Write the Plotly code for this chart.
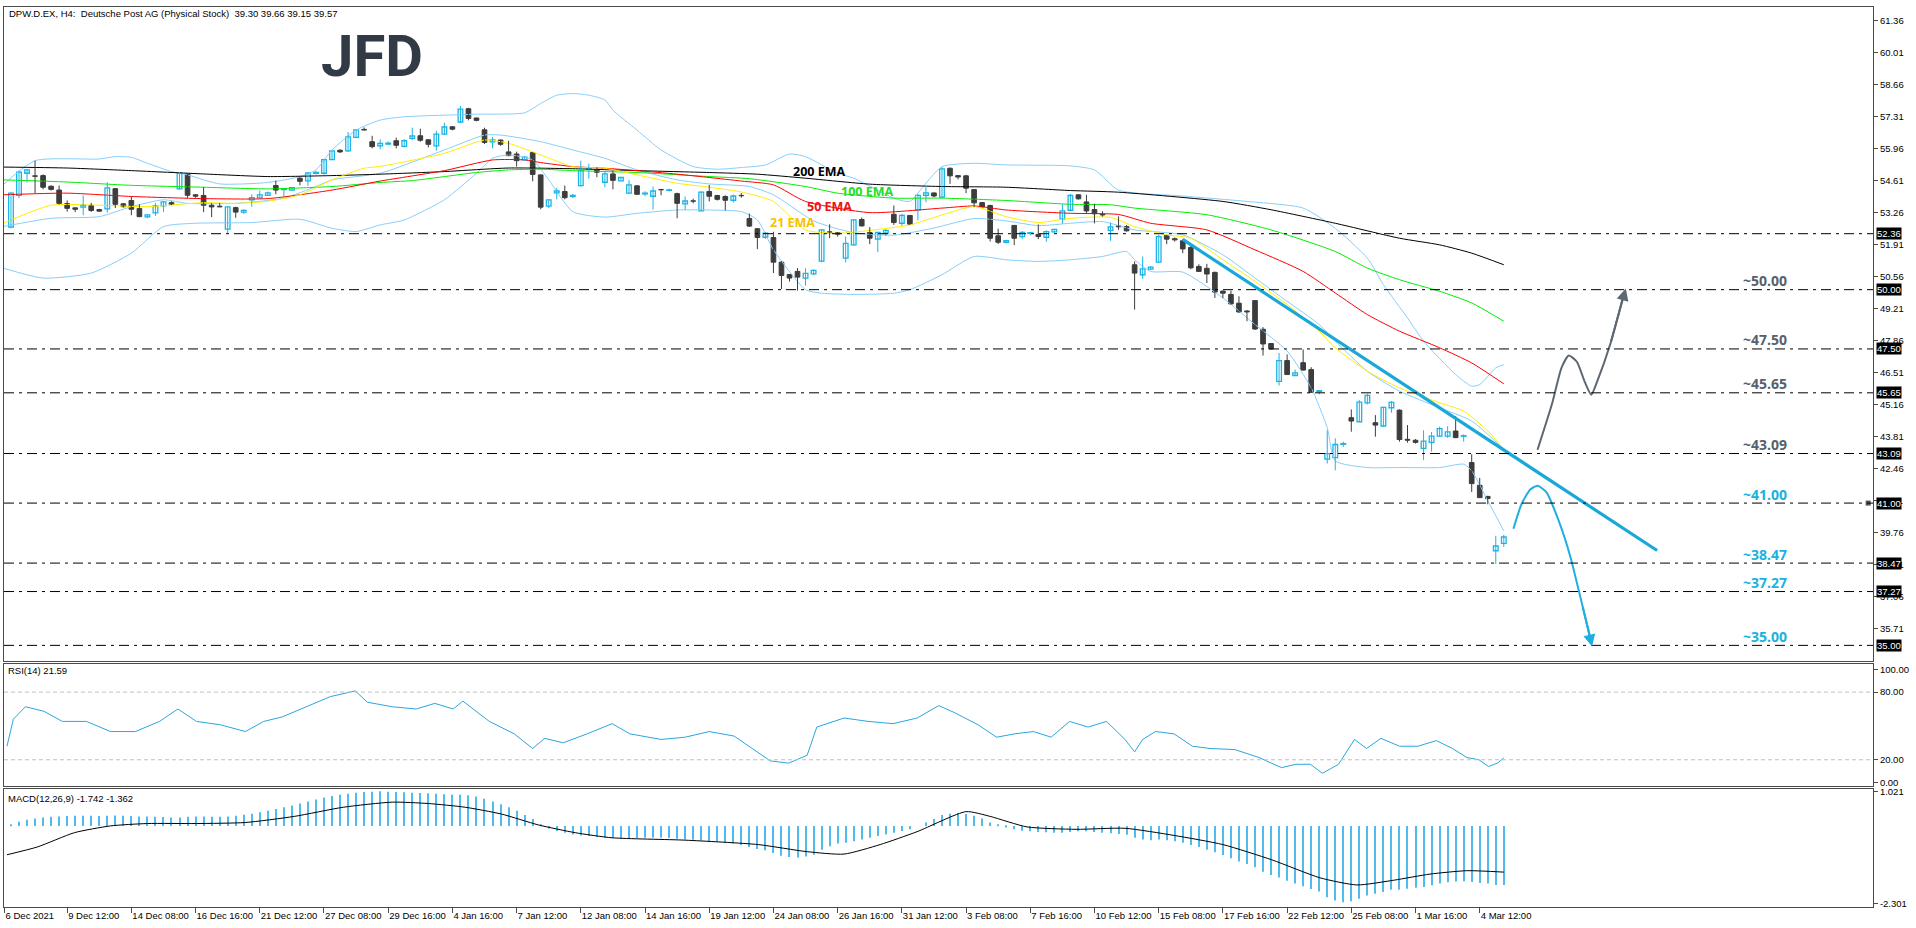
import plotly.graph_objects as go

# ------------------------------------------------------------------ DATA
open_ = [52.64,53.98,54.91,54.80,54.81,54.36,54.20,53.63,53.45,53.48,
         53.55,53.38,53.41,54.26,53.62,53.76,53.42,53.07,53.24,53.53,
         53.67,54.25,54.88,54.00,53.97,53.56,53.52,52.55,53.46,53.27,
         53.79,53.87,53.98,54.39,54.22,54.20,54.70,54.59,54.91,54.91,
         55.48,55.88,55.85,56.42,56.76,56.24,56.06,56.14,56.28,56.04,
         56.38,56.49,56.32,56.06,56.56,56.87,57.07,57.63,57.24,56.74,
         56.23,56.31,55.81,55.72,55.47,55.78,54.84,53.52,54.08,54.14,
         53.93,54.39,55.08,55.05,54.53,54.88,54.59,54.07,54.38,54.04,
         53.94,54.22,54.19,54.05,53.62,53.74,53.32,54.14,53.97,53.93,
         53.77,53.97,53.00,52.57,52.21,52.20,51.16,50.64,50.77,50.49,
         50.67,51.20,52.44,52.41,51.33,51.89,52.96,52.41,52.13,52.38,
         53.18,52.80,53.13,53.37,53.98,54.08,53.90,55.12,54.81,54.80,
         54.22,53.67,53.55,52.27,52.00,52.71,52.24,52.37,52.33,52.21,
         52.44,52.97,53.35,54.00,53.70,53.38,53.18,52.50,52.69,52.66,
         51.05,50.63,50.87,51.16,52.29,52.15,52.06,51.78,50.98,50.90,
         50.73,49.94,49.80,49.43,49.10,49.54,48.33,47.73,46.13,47.01,
         46.38,46.92,46.63,45.71,42.85,42.92,43.48,44.60,44.43,45.23,
         44.39,44.25,45.02,44.92,43.69,43.65,43.31,43.56,43.82,43.82,
         44.04,43.82,42.71,41.75,41.28,38.99,39.30]
high = [54.11,55.02,55.08,55.44,54.86,54.40,54.39,53.76,53.46,53.97,
        53.66,53.41,54.53,54.28,53.65,53.93,53.60,53.17,53.65,53.73,
        53.73,54.96,54.91,54.02,54.32,53.65,53.65,53.50,53.50,53.39,
        54.02,54.18,54.14,54.60,54.26,54.32,54.77,54.94,55.00,55.52,
        55.86,55.92,56.65,56.77,56.84,56.49,56.34,56.25,56.41,56.35,
        56.83,56.79,56.34,56.70,57.04,56.90,57.75,57.67,57.25,56.83,
        56.44,56.32,56.28,55.82,55.62,55.79,54.85,53.81,54.30,54.39,
        54.04,55.44,55.31,55.16,54.96,55.02,54.73,54.63,54.39,54.15,
        54.35,54.25,54.26,54.09,53.93,53.84,54.15,54.42,54.00,53.98,
        54.01,54.07,53.21,52.58,52.44,52.44,51.20,50.66,50.91,50.90,
        50.85,52.54,52.76,52.43,52.24,52.97,53.04,52.64,52.43,52.54,
        53.55,53.20,53.15,54.04,54.39,54.09,55.16,55.15,54.82,54.84,
        54.23,53.70,53.58,52.57,52.10,52.72,52.47,52.41,52.75,52.50,
        52.56,53.60,54.04,54.01,54.00,53.62,53.31,52.83,53.09,52.73,
        51.19,51.40,50.99,52.31,52.31,52.20,52.13,51.89,51.07,51.09,
        50.76,49.96,49.96,49.72,49.14,49.55,48.42,47.74,47.33,47.27,
        46.63,47.48,46.73,45.77,44.07,43.73,43.59,44.95,45.34,45.61,
        44.71,45.06,45.30,44.95,44.29,43.70,44.07,44.00,44.22,44.24,
        44.67,43.90,43.06,42.06,41.31,39.62,39.66]
low = [52.59,53.86,54.52,54.07,54.23,54.18,53.59,53.29,53.27,53.14,
       53.28,53.29,53.25,53.44,53.46,53.14,53.06,53.01,53.11,53.27,
       53.56,54.23,53.87,53.88,53.27,53.06,53.48,52.38,53.03,53.20,
       53.50,53.84,53.97,54.02,53.90,54.19,54.40,54.38,54.86,54.86,
       55.47,55.76,55.81,56.39,56.72,55.96,55.92,56.11,55.96,56.00,
       56.30,56.24,56.00,55.87,56.52,56.72,57.05,57.14,57.10,56.14,
       55.96,56.07,55.64,55.19,55.43,54.57,53.39,53.44,53.81,53.81,
       53.86,54.35,54.68,54.74,54.32,54.23,54.59,54.04,54.02,53.94,
       53.38,53.98,54.14,53.01,53.37,53.64,53.31,53.72,53.76,53.34,
       53.67,53.88,52.64,51.71,52.14,50.70,50.03,50.34,49.96,50.17,
       50.62,51.16,52.17,52.24,51.15,51.86,52.66,51.92,51.58,52.27,
       52.73,52.69,52.73,52.92,53.69,53.90,53.88,54.46,54.65,54.07,
       53.48,53.48,52.03,51.92,51.95,51.88,52.14,52.29,52.13,52.02,
       52.40,52.78,53.31,53.80,53.23,52.80,53.08,52.06,52.52,52.45,
       49.16,50.46,50.84,51.15,51.92,52.03,51.54,50.86,50.77,50.28,
       49.65,49.65,49.37,49.02,48.67,48.30,47.22,47.48,45.96,46.41,
       46.38,46.59,45.65,45.58,42.67,42.38,43.37,44.01,44.42,45.16,
       43.80,44.24,44.81,43.59,43.55,43.51,42.81,43.17,43.80,43.75,
       43.75,43.59,41.47,41.22,40.95,38.43,39.15]
close = [54.07,54.96,55.05,54.78,54.32,54.23,53.64,53.43,53.39,53.56,
         53.34,53.31,54.29,53.60,53.50,53.39,53.08,53.15,53.53,53.70,
         53.60,54.92,53.98,53.94,53.56,53.49,53.49,53.49,53.27,53.34,
         53.88,54.00,54.08,54.20,54.25,54.30,54.57,54.92,54.95,55.48,
         55.85,55.81,56.44,56.74,56.73,56.03,56.17,56.18,56.09,56.28,
         56.48,56.30,56.13,56.56,56.86,56.77,57.61,57.22,57.14,56.21,
         56.32,56.13,55.65,55.44,55.59,54.86,53.48,53.79,54.16,53.88,
         53.97,55.02,55.13,54.95,54.88,54.61,54.73,54.42,54.02,54.07,
         54.16,54.21,54.20,53.64,53.74,53.73,54.11,53.94,53.81,53.77,
         53.95,53.96,52.68,52.20,52.38,51.16,50.60,50.49,50.53,50.69,
         50.81,52.52,52.40,52.34,51.95,52.94,52.69,52.17,52.41,52.50,
         52.83,53.13,52.76,53.98,54.08,53.95,55.09,54.80,54.75,54.28,
         53.66,53.49,52.17,52.00,52.07,52.17,52.41,52.40,52.24,52.45,
         52.54,53.32,53.97,53.83,53.32,53.20,53.15,52.65,52.65,52.48,
         50.70,50.88,50.95,52.24,52.13,52.10,51.72,50.92,50.77,50.66,
         49.90,49.85,49.40,49.06,49.06,48.34,47.71,47.50,47.01,46.42,
         46.49,46.61,45.67,45.74,43.09,43.47,43.51,44.46,45.26,45.54,
         44.29,45.04,45.25,43.68,43.65,43.56,43.61,43.82,44.14,44.00,
         43.76,43.84,41.82,41.23,41.19,39.19,39.57]
bars = list(range(len(close)))

x_tick_bars = [-0.8, 7, 15, 23, 31, 39, 47, 55, 63, 71, 79, 87, 95, 103, 111,
               119, 127, 135, 143, 151, 159, 167, 175, 183]
x_tick_text = ["6 Dec 2021", "9 Dec 12:00", "14 Dec 08:00", "16 Dec 16:00",
               "21 Dec 12:00", "27 Dec 08:00", "29 Dec 16:00", "4 Jan 16:00",
               "7 Jan 12:00", "12 Jan 08:00", "14 Jan 16:00", "19 Jan 12:00",
               "24 Jan 08:00", "26 Jan 16:00", "31 Jan 12:00", "3 Feb 08:00",
               "7 Feb 16:00", "10 Feb 12:00", "15 Feb 08:00", "17 Feb 16:00",
               "22 Feb 12:00", "25 Feb 08:00", "1 Mar 16:00", "4 Mar 12:00"]

price_ticks = [61.36, 60.01, 58.66, 57.31, 55.96, 54.61, 53.26, 51.91, 50.56,
               49.21, 47.86, 46.51, 45.16, 43.81, 42.46, 41.11, 39.76, 38.41,
               37.06, 35.71]

# moving averages (read at sample bars)
ema200_x = [-1, 7, 15, 24, 32, 40, 46, 54, 62, 70, 78, 87, 93, 99, 107, 116,
            124, 132, 138, 151, 157, 165, 173, 178, 182, 186]
ema200_y = [55.17, 55.13, 55.02, 54.88, 54.77, 54.81, 54.87, 54.98, 55.13,
            55.10, 55.02, 54.94, 54.87, 54.70, 54.45, 54.35, 54.32, 54.18,
            54.11, 53.72, 53.37, 52.80, 52.17, 51.89, 51.54, 51.05]
ema100_x = [-1, 7, 15, 24, 32, 40, 46, 50, 58, 62, 66, 70, 78, 87, 92, 99,
            103, 110, 116, 124, 132, 137, 140, 149, 157, 165, 169, 173, 178,
            182, 186]
ema100_y = [54.63, 54.54, 54.40, 54.32, 54.25, 54.35, 54.52, 54.60, 54.94,
            55.05, 55.08, 55.02, 54.94, 54.77, 54.68, 54.35, 54.07, 53.86,
            53.86, 53.76, 53.60, 53.58, 53.44, 53.16, 52.52, 51.61, 50.91,
            50.42, 49.93, 49.44, 48.67]
ema50_x = [-1, 7, 15, 24, 32, 40, 46, 54, 60, 64, 66, 70, 74, 78, 83, 87,
           91, 95, 99, 107, 116, 120, 124, 132, 138, 142, 149, 155, 161, 165,
           169, 173, 178, 182, 186]
ema50_y = [54.00, 54.07, 53.93, 53.84, 53.84, 54.20, 54.58, 55.02, 55.47,
           55.47, 55.36, 55.19, 55.12, 55.02, 54.87, 54.73, 54.58, 54.42,
           53.72, 53.25, 53.44, 53.53, 53.36, 53.22, 53.17, 52.80, 52.52,
           51.68, 50.77, 49.86, 48.95, 48.25, 47.55, 46.91, 46.03]
ema21_x = [-1, 5, 11, 17, 24, 28, 32, 36, 40, 44, 46, 54, 59, 62, 66, 70,
           74, 78, 83, 87, 91, 95, 99, 103, 107, 112, 116, 120, 124, 128,
           132, 137, 140, 144, 147, 151, 155, 159, 163, 165, 169, 173, 178,
           181, 184, 186]
ema21_y = [52.80, 53.56, 53.56, 53.50, 53.67, 53.64, 53.73, 54.00, 54.63,
           55.12, 55.20, 55.75, 56.31, 56.17, 55.68, 55.19, 55.12, 54.84,
           54.49, 54.32, 54.12, 53.72, 52.52, 52.38, 52.50, 52.73, 53.15,
           53.50, 53.08, 52.83, 53.01, 53.05, 52.66, 52.31, 52.17, 51.26,
           50.35, 49.37, 48.25, 47.55, 46.56, 45.86, 45.23, 44.88, 44.04,
           43.27]

# Bollinger bands (read at sample bars)
bb_up_x = [-1, 3, 11, 13, 15, 17, 20, 22, 26, 32, 36, 38, 40, 43, 46, 49,
           58, 64, 66, 68, 70, 72, 74, 75, 78, 81, 85, 88, 91, 94, 97, 99,
           103, 105, 110, 112, 114, 116, 120, 124, 132, 135, 138, 146, 154,
           161, 165, 169, 171, 174, 176, 180, 182, 183, 185, 186]
bb_up_y = [54.42, 55.44, 55.51, 55.61, 55.58, 55.33, 54.98, 54.84, 54.46,
           54.52, 54.77, 55.05, 55.89, 56.73, 57.15, 57.29, 57.40, 57.46,
           57.85, 58.20, 58.27, 58.20, 58.00, 57.57, 56.73, 55.89, 55.19,
           55.08, 55.15, 55.26, 55.72, 55.61, 54.91, 54.70, 53.86, 53.72,
           54.49, 55.19, 55.33, 55.26, 55.22, 55.05, 54.20, 53.95, 53.72,
           53.44, 52.59, 51.33, 50.21, 48.81, 47.83, 46.42, 45.93, 46.00,
           46.70, 46.84]
bb_mid_x = [-1, 5, 11, 15, 19, 22, 28, 34, 38, 40, 46, 54, 59, 61, 66, 70,
            74, 78, 83, 87, 92, 95, 100, 105, 110, 115, 120, 124, 128, 132,
            136, 140, 146, 151, 155, 159, 163, 165, 169, 173, 178, 182, 186]
bb_mid_y = [52.66, 53.01, 53.08, 53.50, 53.79, 53.64, 53.64, 53.86, 54.35,
            54.63, 54.91, 55.89, 56.52, 56.52, 56.24, 55.89, 55.54, 55.05,
            54.63, 54.46, 54.35, 54.00, 52.90, 52.40, 52.30, 52.60, 53.00,
            52.90, 52.70, 52.80, 52.87, 52.52, 52.31, 51.47, 50.49, 49.51,
            48.53, 47.83, 46.56, 45.72, 45.02, 44.46, 43.27]
bb_low_x = [-1, 4, 10, 15, 19, 23, 30, 36, 40, 43, 46, 49, 54, 58, 60, 62,
            65, 67, 70, 74, 78, 83, 87, 91, 93, 95, 99, 101, 105, 110, 112,
            116, 120, 124, 128, 132, 136, 139, 140, 142, 146, 151, 155, 159,
            162, 164, 165, 169, 173, 178, 181, 182, 184, 186]
bb_low_y = [50.91, 50.49, 50.70, 51.54, 52.66, 52.80, 52.83, 52.97, 52.59,
            52.45, 52.73, 52.94, 53.79, 54.91, 55.54, 55.68, 55.47, 54.63,
            53.29, 53.06, 53.22, 53.36, 53.36, 53.29, 52.94, 51.68, 50.00,
            49.85, 49.80, 49.85, 50.00, 50.63, 51.40, 51.26, 51.19, 51.26,
            51.40, 51.61, 51.26, 50.77, 50.74, 49.65, 48.53, 47.41, 45.86,
            44.18, 42.78, 42.50, 42.50, 42.50, 42.64, 42.36, 41.10, 39.83]

# RSI(14) (read at sample bars)
rsi_x = [-0.5, 0.3, 1.8, 4.1, 6.4, 9.4, 12.4, 15.5, 18.5, 20.8, 23.1, 26.1,
         29.2, 31.5, 33.8, 36.8, 39.8, 42.9, 44.4, 47.5, 50.5, 52.8, 55.1,
         56.3, 58.1, 59.6, 62.7, 65, 66.5, 68.8, 71.8, 74.9, 77.1, 81, 84,
         87, 90.1, 92.4, 94.6, 96.9, 99.2, 100.4, 103.8, 106.8, 109.9,
         112.9, 115.6, 117.5, 120.5, 122.8, 125.1, 127.4, 129.6, 131.9,
         134.2, 136.5, 138.8, 140, 141, 142.6, 144.9, 147.2, 149.4, 152.5,
         155.5, 158.3, 160.1, 161.9, 163.4, 165.4, 167.4, 168.9, 170.7, 173,
         175.3, 177.6, 179.6, 181.4, 182.9, 184.1, 185.2, 186]
rsi_y = [32, 56, 67, 63, 54, 54, 45, 45, 54, 65, 54, 51, 45, 54, 58, 67, 76,
         81, 71, 67, 65, 70, 65, 72, 62, 54, 43, 30, 39, 35, 43, 52, 43, 38,
         40, 45, 41, 30, 19, 17, 24, 49, 57, 54, 52, 57, 68, 62, 51, 40, 43,
         45, 40, 54, 49, 54, 38, 27, 38, 45, 43, 32, 30, 29, 22, 13, 16, 16,
         8, 16, 38, 30, 39, 32, 32, 37, 30, 22, 20, 14, 17, 21.59]

# MACD(12,26,9) histogram per bar and signal line at sample bars
macd_hist = [0.05,0.12,0.18,0.22,0.25,0.27,0.28,0.29,0.30,0.30,
             0.30,0.29,0.30,0.31,0.30,0.29,0.28,0.28,0.27,0.26,
             0.25,0.25,0.27,0.28,0.28,0.27,0.27,0.28,0.30,0.33,
             0.36,0.40,0.45,0.50,0.55,0.60,0.66,0.72,0.78,0.84,
             0.88,0.92,0.95,0.98,1.00,1.01,1.02,1.01,1.00,0.99,
             0.98,0.97,0.96,0.95,0.93,0.92,0.92,0.90,0.87,0.80,
             0.72,0.64,0.55,0.45,0.32,0.20,0.05,-0.08,-0.15,-0.20,
             -0.25,-0.28,-0.30,-0.33,-0.35,-0.36,-0.36,-0.36,-0.36,-0.35,
             -0.35,-0.35,-0.36,-0.38,-0.40,-0.41,-0.43,-0.45,-0.47,-0.50,
             -0.52,-0.56,-0.62,-0.68,-0.72,-0.80,-0.88,-0.92,-0.93,-0.90,
             -0.85,-0.70,-0.60,-0.52,-0.50,-0.45,-0.40,-0.35,-0.30,-0.25,
             -0.20,-0.15,-0.10,0.00,0.10,0.20,0.32,0.36,0.38,0.35,
             0.30,0.22,0.10,0.02,-0.05,-0.10,-0.14,-0.16,-0.18,-0.19,
             -0.20,-0.20,-0.18,-0.16,-0.16,-0.18,-0.20,-0.22,-0.24,-0.26,
             -0.35,-0.40,-0.42,-0.40,-0.42,-0.45,-0.50,-0.56,-0.62,-0.70,
             -0.78,-0.86,-0.95,-1.05,-1.12,-1.22,-1.35,-1.45,-1.52,-1.62,
             -1.70,-1.78,-1.86,-1.93,-2.10,-2.20,-2.25,-2.22,-2.15,-2.05,
             -2.00,-1.95,-1.88,-1.88,-1.85,-1.82,-1.80,-1.75,-1.70,-1.66,
             -1.64,-1.63,-1.65,-1.68,-1.70,-1.74,-1.742]
signal_x = [-0.5, 3.3, 7.9, 12.4, 17, 23.1, 29.2, 35.3, 41.4, 47.5, 52, 56.6,
            61.1, 65.7, 70.3, 74.9, 84, 93.1, 99.2, 103.8, 108.3, 112.9, 119,
            122, 126.6, 132.7, 138.8, 144.9, 151, 157.1, 163.1, 167.7, 172.3,
            176.8, 181.4, 186]
signal_y = [-0.85, -0.62, -0.20, 0.00, 0.07, 0.07, 0.10, 0.28, 0.55, 0.70,
            0.66, 0.55, 0.35, 0.03, -0.20, -0.35, -0.42, -0.55, -0.76, -0.83,
            -0.55, -0.17, 0.42, 0.28, -0.03, -0.10, -0.07, -0.28, -0.55,
            -1.00, -1.53, -1.74, -1.60, -1.42, -1.32, -1.362]

# horizontal levels and drawn objects
levels_grey = [50.00, 47.50, 45.65, 43.09]
levels_cyan = [41.00, 38.47, 37.27, 35.00]
level_lines = [52.36, 50.00, 47.50, 45.65, 43.09, 41.00, 38.47, 37.27, 35.00]
trend_x = [146.0, 205.1]
trend_y = [52.12, 39.00]
up_path_x = [190.2, 192.0, 193.2, 194.1, 195.1, 196.1, 196.9, 197.6, 199.3, 200.9]
up_path_y = [43.25, 45.18, 46.71, 47.22, 46.96, 46.10, 45.57, 46.10, 47.74, 49.75]
dn_path_x = [187.2, 188.2, 189.3, 190.2, 191.3, 192.8, 194.3, 195.8, 196.8]
dn_path_y = [39.92, 40.95, 41.57, 41.73, 41.46, 40.29, 38.73, 36.67, 35.30]

# ------------------------------------------------------------------ STYLE
PL, PR, PT, PB = 3, 1873, 5, 907
def px_x(px):
    return (px - PL) / (PR - PL)
def px_y(py):
    return (PB - py) / (PB - PT)

CYAN = "#1ab4e6"
DARK = "#3d3d3d"
FRAME = "#4a4a4a"
BLUE_LIGHT = "#87cefa"
FONT = "Liberation Sans"

fig = go.Figure()

def line(x, y, color, width=1, xa="x", ya="y", shape="spline"):
    fig.add_trace(go.Scatter(x=x, y=y, mode="lines", xaxis=xa, yaxis=ya,
                             line=dict(color=color, width=width, shape=shape,
                                       smoothing=0.6 if shape == "spline" else None),
                             hoverinfo="skip"))

# indicators (behind candles)
line(bb_up_x, bb_up_y, BLUE_LIGHT)
line(bb_mid_x, bb_mid_y, BLUE_LIGHT)
line(bb_low_x, bb_low_y, BLUE_LIGHT)
line(ema200_x, ema200_y, "#000000")
line(ema100_x, ema100_y, "#00ee00")
line(ema50_x, ema50_y, "#ff0000")
line(ema21_x, ema21_y, "#ffee00")

# candles: wicks
for bull in (True, False):
    wx, wy = [], []
    for i in bars:
        if (close[i] >= open_[i]) == bull:
            wx += [i, i, None]
            wy += [low[i], high[i], None]
    fig.add_trace(go.Scatter(x=wx, y=wy, mode="lines", hoverinfo="skip",
                             line=dict(color=CYAN if bull else DARK, width=1)))
# candles: bodies
for bull in (True, False):
    bx, bb, bh = [], [], []
    for i in bars:
        if (close[i] >= open_[i]) == bull:
            bx.append(i)
            bb.append(min(open_[i], close[i]))
            bh.append(max(abs(close[i] - open_[i]), 0.015))
    fig.add_trace(go.Bar(x=bx, y=bh, base=bb, width=0.58, hoverinfo="skip",
                         marker=dict(color="#ffffff" if bull else DARK,
                                     line=dict(color=CYAN if bull else DARK,
                                               width=1.3 if bull else 1))))

# trend line + scenario arrows
line(trend_x, trend_y, "#1aa8d8", width=3.2, shape="linear")
line(up_path_x, up_path_y, "#5e6873", width=2)
line(dn_path_x, dn_path_y, "#1eaee0", width=2)

# axis price marker square for 41.00
fig.add_trace(go.Scatter(x=[231.4], y=[41.00], mode="markers", cliponaxis=False,
                         marker=dict(symbol="square", size=5, color="#555555"),
                         hoverinfo="skip"))

# RSI
fig.add_trace(go.Scatter(x=rsi_x, y=rsi_y, mode="lines", xaxis="x2", yaxis="y2",
                         line=dict(color="#2aa6dc", width=1), hoverinfo="skip"))
# MACD
fig.add_trace(go.Bar(x=bars, y=macd_hist, xaxis="x3", yaxis="y3", width=0.13,
                     marker=dict(color="#4fbdec", line=dict(width=0)),
                     hoverinfo="skip"))
fig.add_trace(go.Scatter(x=signal_x, y=signal_y, mode="lines", xaxis="x3",
                         yaxis="y3", line=dict(color="#000000", width=1,
                                               shape="spline", smoothing=0.6),
                         hoverinfo="skip"))

# ------------------------------------------------------------------ SHAPES
shapes = []
for lv in level_lines:
    shapes.append(dict(type="line", xref="paper", x0=0, x1=1, yref="y", y0=lv,
                       y1=lv, line=dict(color="#000000", width=1,
                                        dash="10px,5px,3px,5px")))
for lv in (80, 20):
    shapes.append(dict(type="line", xref="paper", x0=0, x1=1, yref="y2", y0=lv,
                       y1=lv, line=dict(color="#c0c0c0", width=1, dash="4px,3px")))

# ------------------------------------------------------------------ ANNOTATIONS
ann = []
nb = "\u00a0"
ann.append(dict(xref="paper", yref="paper", x=px_x(6), y=px_y(12),
                xanchor="left", yanchor="middle", showarrow=False,
                text=f"DPW.D.EX, H4:{nb}{nb}Deutsche Post AG (Physical Stock){nb}{nb}39.30 39.66 39.15 39.57",
                font=dict(family=FONT, size=9.5, color="#000000")))
ann.append(dict(xref="paper", yref="paper", x=px_x(5), y=px_y(670),
                xanchor="left", yanchor="middle", showarrow=False,
                text="RSI(14) 21.59", font=dict(family=FONT, size=9.5, color="#000")))
ann.append(dict(xref="paper", yref="paper", x=px_x(5), y=px_y(798),
                xanchor="left", yanchor="middle", showarrow=False,
                text="MACD(12,26,9) -1.742 -1.362",
                font=dict(family=FONT, size=9.5, color="#000")))
# logo
ann.append(dict(xref="paper", yref="paper", x=px_x(371), y=px_y(54),
                xanchor="center", yanchor="middle", showarrow=False,
                text="<b>JFD</b>", font=dict(family="Roboto", size=58, color="#323a45")))
# EMA labels
for txt, cx, cy, col in [("200 EMA", 818, 170, "#000000"),
                         ("100 EMA", 866, 190, "#22dd22"),
                         ("50 EMA", 829, 205, "#ee1111"),
                         ("21 EMA", 792, 221, "#f5c200")]:
    ann.append(dict(xref="paper", yref="paper", x=px_x(cx), y=px_y(cy),
                    xanchor="center", yanchor="middle", showarrow=False,
                    text=f"<b>{txt}</b>",
                    font=dict(family="Open Sans", size=12.5, color=col)))
# level texts
for lv in levels_grey + levels_cyan:
    col = "#56616d" if lv in levels_grey else "#19b2e0"
    ann.append(dict(xref="x", yref="y", x=218.55, y=lv, yshift=9,
                    xanchor="center", yanchor="middle", showarrow=False,
                    text=f"<b>~{lv:.2f}</b>",
                    font=dict(family="Open Sans", size=14, color=col)))
# black price boxes on the axis
for lv in level_lines:
    ann.append(dict(xref="paper", yref="y", x=px_x(1876), y=lv,
                    xanchor="left", yanchor="middle", showarrow=False,
                    text=f"{lv:.2f}", bgcolor="#000000", borderpad=0,
                    font=dict(family=FONT, size=9.5, color="#ffffff")))
# arrow heads
ann.append(dict(xref="x", yref="y", axref="x", ayref="y",
                x=up_path_x[-1] + 0.3, y=up_path_y[-1] + 0.3,
                ax=up_path_x[-2], ay=up_path_y[-2], text="", showarrow=True,
                arrowhead=2, arrowsize=1.2, arrowwidth=2, arrowcolor="#5e6873"))
ann.append(dict(xref="x", yref="y", axref="x", ayref="y",
                x=dn_path_x[-1] + 0.2, y=dn_path_y[-1] - 0.35,
                ax=dn_path_x[-2], ay=dn_path_y[-2], text="", showarrow=True,
                arrowhead=2, arrowsize=1.2, arrowwidth=2, arrowcolor="#1eaee0"))

# ------------------------------------------------------------------ LAYOUT
tickfont = dict(family=FONT, size=9.5, color="#000000")
xcommon = dict(range=[-0.87, 232.0], showgrid=False, zeroline=False,
               showline=True, mirror=True, linecolor=FRAME, linewidth=1)
ycommon = dict(showgrid=False, zeroline=False, showline=True, mirror=True,
               linecolor=FRAME, linewidth=1, side="right", ticks="outside",
               ticklen=4, tickcolor=FRAME, tickfont=tickfont)

fig.update_layout(
    width=1916, height=928, autosize=False,
    margin=dict(l=PL, r=1916 - PR, t=PT, b=928 - PB, pad=0),
    paper_bgcolor="#ffffff", plot_bgcolor="#ffffff",
    showlegend=False, barmode="overlay", hovermode=False,
    shapes=shapes, annotations=ann,
    xaxis=dict(domain=[0, 1], anchor="y", showticklabels=False, ticks="", **xcommon),
    xaxis2=dict(domain=[0, 1], anchor="y2", matches="x", showticklabels=False,
                ticks="", **xcommon),
    xaxis3=dict(domain=[0, 1], anchor="y3", matches="x", ticks="outside",
                ticklen=5, tickcolor=FRAME, tickvals=x_tick_bars,
                ticktext=x_tick_text, ticklabelposition="outside right",
                tickangle=0, tickfont=tickfont, **xcommon),
    yaxis=dict(domain=[(PB - 660) / (PB - PT), 1], anchor="x",
               range=[34.36, 61.92], tickvals=price_ticks,
               ticktext=[f"{v:.2f}" for v in price_ticks], **ycommon),
    yaxis2=dict(domain=[(PB - 786) / (PB - PT), (PB - 663) / (PB - PT)],
                anchor="x2", range=[-3.5, 105.3], tickvals=[0, 20, 80, 100],
                ticktext=["0.00", "20.00", "80.00", "100.00"], **ycommon),
    yaxis3=dict(domain=[0, (PB - 789) / (PB - PT)], anchor="x3",
                range=[-2.39, 1.08], tickvals=[-2.301, 1.021],
                ticktext=["-2.301", "1.021"], **ycommon),
)

fig.write_html("out.html", config={"displayModeBar": False, "responsive": False})
